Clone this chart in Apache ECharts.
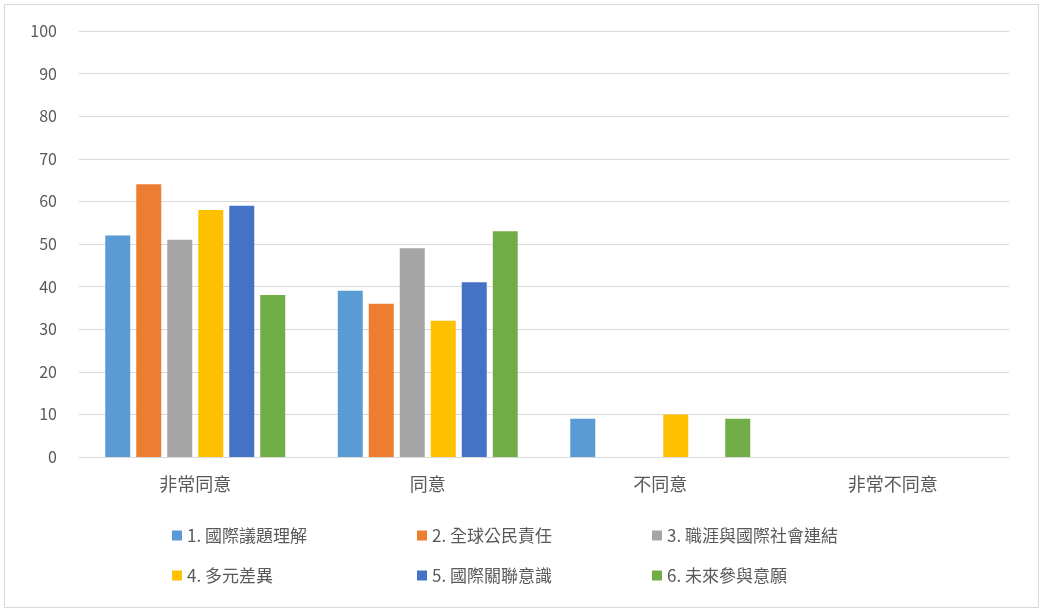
<!DOCTYPE html>
<html lang="zh-Hant">
<head>
<meta charset="UTF-8">
<script src="https://cdn.jsdelivr.net/npm/echarts@6/dist/echarts.min.js"></script>
<style>
  html, body { margin: 0; padding: 0; width: 100%; height: 100%; background: #fff; overflow: hidden; }
  #chart { position: absolute; left: 4px; top: 4px; right: 4px; bottom: 4px; border: 1px solid #d9d9d9; }
</style>
</head>
<body>
<div id="chart"></div>
<script>
  const categories = ['非常同意', '同意', '不同意', '非常不同意'];
  const seriesNames = ['1. 國際議題理解', '2. 全球公民責任', '3. 職涯與國際社會連結', '4. 多元差異', '5. 國際關聯意識', '6. 未來參與意願'];
  const s1 = [52, 39, 9, 0];
  const s2 = [64, 36, 0, 0];
  const s3 = [51, 49, 0, 0];
  const s4 = [58, 32, 10, 0];
  const s5 = [59, 41, 0, 0];
  const s6 = [38, 53, 9, 0];
  const colors = ['#5B9BD5', '#ED7D31', '#A5A5A5', '#FFC000', '#4472C4', '#70AD47'];

  const chart = echarts.init(document.getElementById('chart'));
  const font = 'Noto Sans CJK TC';
  const legendText = { color: '#595959', fontSize: 17, fontFamily: font };
  const legendLeft = [162, 407, 642];

  chart.setOption({
    color: colors,
    grid: { left: 74, right: 29, top: 26, bottom: 150 },
    // one legend per item so the columns line up like the original
    legend: seriesNames.map((n, i) => ({
      data: [n], left: legendLeft[i % 3], top: i < 3 ? 517 : 557,
      itemWidth: 10, itemHeight: 10, icon: 'rect', textStyle: legendText
    })),
    xAxis: {
      type: 'category', data: categories,
      axisTick: { show: false },
      axisLine: { lineStyle: { color: '#d9d9d9' } },
      axisLabel: { color: '#595959', fontSize: 18, fontFamily: font, margin: 18 }
    },
    yAxis: {
      type: 'value', min: 0, max: 100, interval: 10,
      axisLine: { show: false },
      splitLine: { lineStyle: { color: '#d9d9d9' } },
      axisLabel: { color: '#595959', fontSize: 16, fontFamily: font, margin: 22 }
    },
    series: [s1, s2, s3, s4, s5, s6].map((d, i) => ({
      name: seriesNames[i], type: 'bar', data: d, barWidth: 25, barGap: '24%'
    }))
  });
</script>
</body>
</html>
